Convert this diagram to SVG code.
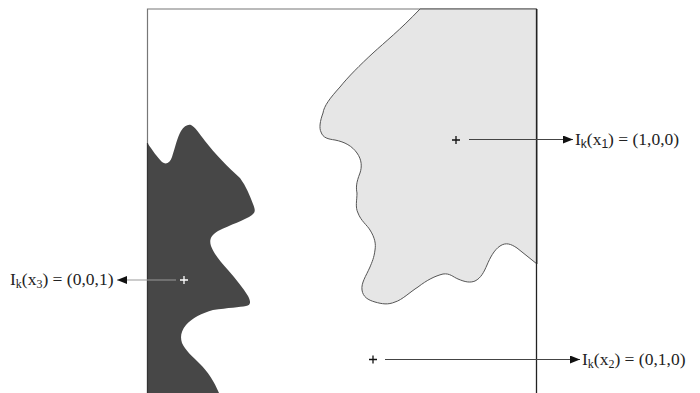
<svg xmlns="http://www.w3.org/2000/svg" width="700" height="393" viewBox="0 0 700 393">
<style>
.lbl{font-family:"Liberation Serif","Times New Roman",serif;font-size:17.5px;fill:#222}
.sub{font-size:12px}
.conn{stroke-width:1.2;fill:none}
.cross{stroke-width:1.3;fill:none}
</style>
<defs>
<marker id="arr" viewBox="0 0 10 8" refX="10" refY="4" markerWidth="11" markerHeight="8" markerUnits="userSpaceOnUse" orient="auto">
<path d="M0,0 L10,4 L0,8 z" fill="#111"/>
</marker>
</defs>
<rect width="700" height="393" fill="#fff"/>
<g id="frame">
<path d="M147.5,393 V9 H536.5" stroke="#777" stroke-width="1.2" fill="none"/>
</g>
<g id="region1">
<path d="M420,9 C400,30 385,42 373,53 C360,65 348,77 340,87 C330,98 324,106 323,113 C320,121 319,128 321,132 C323,138 328,139 335,140 C345,142 352,146 357,153 C362,160 362,167 360,173 C356,183 356,188 357,193 C357,200 355,207 358,213 C361,221 367,225 370,230 C375,238 376,244 375,250 C374,258 372,262 370,267 C366,276 361,283 362,290 C363,297 368,300 375,302 C382,304 388,305 395,302 C402,300 410,292 418,287 C427,280 435,276 443,274 C450,273 453,277 458,279 C465,282 470,283 475,281 C481,278 484,272 487,265 C490,258 494,250 500,246 C506,242 511,244 517,248 C524,253 530,259 537,264 V9 Z" fill="#e6e6e6" stroke="#555" stroke-width="1"/>
</g>
<g id="region3">
<path d="M147.5,143 C152,150 158,158 162,162 C166,165 170,163 172,157 C175,148 177,138 181,131 C184,126 188,124 191,125 C195,127 199,133 205,141 C215,154 228,167 240,178 C246,186 250,196 253,204 C255,209 256,212 252,215 C245,220 230,225 218,231 C211,235 209,240 211,246 C214,254 220,261 228,270 C236,279 243,288 248,296 C251,302 251,305 246,306 C240,307 228,308 213,310 C202,313 192,318 186,325 C181,331 180,337 182,343 C185,350 192,356 200,364 C208,372 214,381 219,393 H147.5 Z" fill="#474747"/>
<path d="M147.5,143 V393" stroke="#333" stroke-width="1.2"/>
</g>
<g id="frame-right">
<path d="M536.5,9 V393" stroke="#222" stroke-width="1.3"/>
</g>
<g id="connectors">
<line class="conn" x1="469" y1="139.5" x2="573" y2="139.5" stroke="#444" marker-end="url(#arr)"/>
<line class="conn" x1="385" y1="359.5" x2="580" y2="359.5" stroke="#444" marker-end="url(#arr)"/>
<line class="conn" x1="176" y1="280" x2="117" y2="280" stroke="#999" marker-end="url(#arr)"/>
</g>
<g id="point1">
<path class="cross" d="M452,140 H460 M456,136 V144" stroke="#111"/>
</g>
<g id="point2">
<path class="cross" d="M369,359.5 H377 M373,355.5 V363.5" stroke="#111"/>
</g>
<g id="point3">
<path class="cross" d="M180,280 H188 M184,276 V284" stroke="#fff"/>
</g>
<g id="label1">
<text class="lbl" x="575" y="145">I<tspan class="sub" font-family="Liberation Sans,Arial,sans-serif" font-size="13" dy="3">k</tspan><tspan dy="-3">(x</tspan><tspan class="sub" font-family="Liberation Sans,Arial,sans-serif" font-size="13" dy="3">1</tspan><tspan dy="-3">) = (1,0,0)</tspan></text>
</g>
<g id="label2">
<text class="lbl" x="582" y="365">I<tspan class="sub" dy="3">k</tspan><tspan dy="-3">(x</tspan><tspan class="sub" dy="3">2</tspan><tspan dy="-3">) = (0,1,0)</tspan></text>
</g>
<g id="label3">
<text class="lbl" x="10" y="285">I<tspan class="sub" dy="3">k</tspan><tspan dy="-3">(x</tspan><tspan class="sub" dy="3">3</tspan><tspan dy="-3">) = (0,0,1)</tspan></text>
</g>
</svg>
